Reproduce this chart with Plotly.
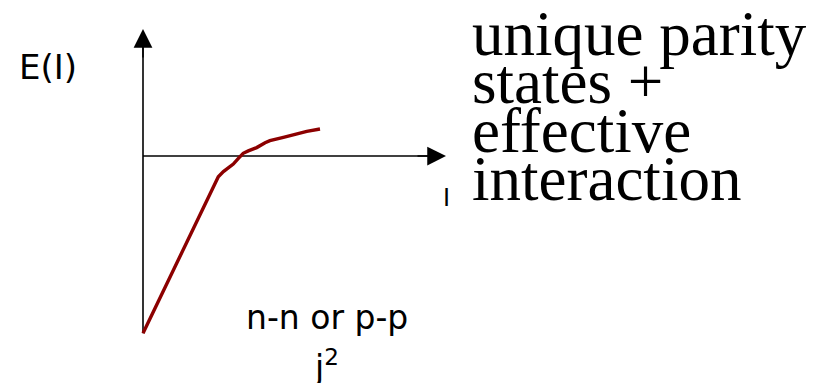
import plotly.graph_objects as go

# ---- data (arbitrary units: spin I vs energy E) ----
spin_I = [0.0, 2.51, 2.68, 3.01, 3.18, 3.34, 3.51, 3.79, 4.07, 4.23, 4.68, 5.01, 5.46, 5.90]
energy_E = [-5.91, -0.69, -0.52, -0.27, -0.08, 0.09, 0.17, 0.28, 0.44, 0.51, 0.62, 0.71, 0.82, 0.90]

x_axis_end = 10.1    # tip of the I-axis arrow
y_axis_top = 4.23    # tip of the E-axis arrow
y_axis_bottom = -5.91

right_lines = ["unique parity", "states +", "effective", "interaction"]

W, H = 814, 383
# axis ranges: origin at pixel (143,156), 30 px per unit
X0, Y0, U = 143.0, 156.0, 30.0
xr = [-X0 / U, (W - X0) / U]
yr = [(Y0 - H) / U, Y0 / U]

def px(x):
    return x / W

def py(y):
    return 1 - y / H

fig = go.Figure()

# vertical axis line (E)
fig.add_trace(go.Scatter(x=[0, 0], y=[y_axis_bottom, y_axis_top - 0.4], mode="lines",
                         line=dict(color="black", width=1.6), hoverinfo="skip", showlegend=False))
# horizontal axis line (I)
fig.add_trace(go.Scatter(x=[0, x_axis_end - 0.4], y=[0, 0], mode="lines",
                         line=dict(color="black", width=1.6), hoverinfo="skip", showlegend=False))
# the curve
fig.add_trace(go.Scatter(x=spin_I, y=energy_E, mode="lines",
                         line=dict(color="#8c0000", width=3.4), hoverinfo="skip", showlegend=False))

annotations = []
# arrowheads
annotations.append(dict(x=0, y=y_axis_top, ax=0, ay=y_axis_top - 1.0, xref="x", yref="y",
                        axref="x", ayref="y", showarrow=True, arrowhead=2, arrowsize=2.5,
                        arrowwidth=1.5, arrowcolor="black", text=""))
annotations.append(dict(x=x_axis_end, y=0, ax=x_axis_end - 1.0, ay=0, xref="x", yref="y",
                        axref="x", ayref="y", showarrow=True, arrowhead=2, arrowsize=2.5,
                        arrowwidth=1.5, arrowcolor="black", text=""))

sans = "DejaVu Sans"
def label(text, x, y, size, family=sans, xanchor="center"):
    return dict(x=px(x), y=py(y), xref="paper", yref="paper", text=text,
                showarrow=False, xanchor=xanchor, yanchor="middle",
                font=dict(family=family, size=size, color="black"))

annotations.append(label("E(I)", 48, 67, 34))
annotations.append(label("I", 447, 198, 24))
annotations.append(label("n-n or p-p", 327, 317, 33))
annotations.append(label("j<sup>2</sup>", 326, 365, 33))

baselines = [55, 103, 152, 200]
fs = 63
for line, b in zip(right_lines, baselines):
    annotations.append(label(line, 470, b - 0.3375 * fs, fs,
                             family="Liberation Serif", xanchor="left"))

fig.update_layout(
    width=W, height=H,
    margin=dict(l=0, r=0, t=0, b=0),
    paper_bgcolor="white", plot_bgcolor="white",
    xaxis=dict(range=xr, visible=False, fixedrange=True),
    yaxis=dict(range=yr, visible=False, fixedrange=True),
    annotations=annotations,
    showlegend=False,
)

fig.write_html("out.html", config={"displayModeBar": False},
               post_script="document.body.style.margin='0';")
